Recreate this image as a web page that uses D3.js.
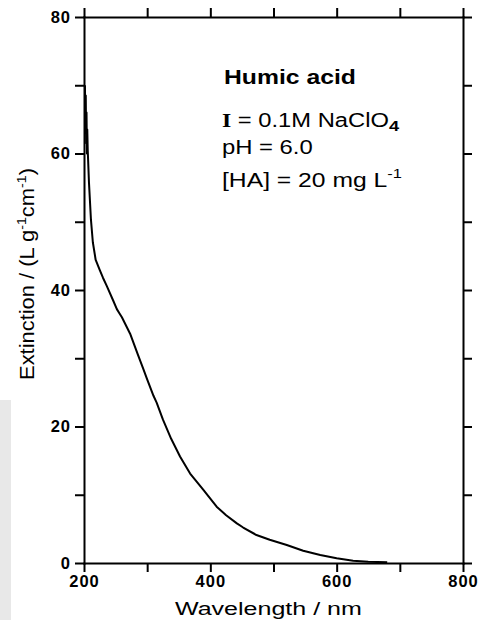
<!DOCTYPE html>
<html>
<head>
<meta charset="utf-8">
<script src="https://cdn.jsdelivr.net/npm/d3@7/dist/d3.min.js"></script>
<style>
  html, body { margin: 0; padding: 0; background: #fff; }
  svg { display: block; }
</style>
</head>
<body>
<svg id="chart" width="481" height="620"></svg>
<script>
// ---- data ----
const wavelengths = [201.5, 202.2, 202.8, 203.4, 204.0, 204.6, 205.2, 205.9, 207.9, 211, 214, 218.5, 225, 230, 236, 246, 252, 256, 260, 273, 285, 294, 300, 310, 315, 325, 338, 352, 368, 389, 410, 425, 442, 452, 473, 494, 521, 547, 574, 600, 626, 650, 680];
const extinction  = [70.0, 63.0, 68.5, 61.5, 66.0, 60.0, 63.5, 60.5, 55.7, 50.3, 47.0, 44.4, 42.9, 41.8, 40.6, 38.5, 37.2, 36.6, 36.0, 33.6, 30.6, 28.4, 26.9, 24.5, 23.5, 21.0, 18.2, 15.6, 13.1, 10.7, 8.25, 7.0, 5.8, 5.2, 4.1, 3.4, 2.64, 1.8, 1.17, 0.69, 0.34, 0.2, 0.1];
const xTicks  = [200, 300, 400, 500, 600, 700, 800];
const xLabels = [200, 400, 600, 800];
const yTicks  = [0, 10, 20, 30, 40, 50, 60, 70, 80];
const yLabels = [0, 20, 40, 60, 80];

const svg = d3.select("#chart");

// scan artefact strip at left edge
svg.append("rect").attr("x", 0).attr("y", 400).attr("width", 11).attr("height", 220).attr("fill", "#e8e8e8");

const x = d3.scaleLinear().domain([200, 800]).range([84, 463]);
const y = d3.scaleLinear().domain([0, 80]).range([563, 17]);

function styleAxis(g) {
  g.attr("font-size", null).attr("font-family", null);
  g.select(".domain").attr("stroke", "#000").attr("stroke-width", 2).attr("stroke-linecap", "square");
  g.selectAll(".tick line").attr("stroke", "#000").attr("stroke-width", 2);
  g.selectAll(".tick text")
    .attr("fill", "#000")
    .style("font-family", "'Liberation Sans', Arial, sans-serif")
    .style("font-weight", "bold")
    .style("font-size", "16.5px")
    .style("letter-spacing", "1px");
}

const fmtX = d => xLabels.includes(d) ? String(d) : "";
const fmtY = d => yLabels.includes(d) ? String(d) : "";

svg.append("g").attr("transform", "translate(0,563)")
  .call(d3.axisBottom(x).tickValues(xTicks).tickSize(9).tickSizeOuter(0).tickPadding(3).tickFormat(fmtX))
  .call(styleAxis);
svg.append("g").attr("transform", "translate(0,17)")
  .call(d3.axisTop(x).tickValues(xTicks).tickSize(9).tickSizeOuter(0).tickFormat(""))
  .call(styleAxis);
svg.append("g").attr("transform", "translate(84,0)")
  .call(d3.axisLeft(y).tickValues(yTicks).tickSize(9).tickSizeOuter(0).tickPadding(4).tickFormat(fmtY))
  .call(styleAxis);
svg.append("g").attr("transform", "translate(463,0)")
  .call(d3.axisRight(y).tickValues(yTicks).tickSize(9).tickSizeOuter(0).tickFormat(""))
  .call(styleAxis);

// curve
const pts = wavelengths.map((w, i) => [w, extinction[i]]);
svg.append("path")
  .datum(pts)
  .attr("fill", "none")
  .attr("stroke", "#000")
  .attr("stroke-width", 2)
  .attr("stroke-linejoin", "round")
  .attr("d", d3.line().x(d => x(d[0])).y(d => y(d[1])));

// ---- text helpers ----
const SANS = "'Liberation Sans', Arial, sans-serif";
function fitted(tx, ty, width, size, weight, build, rotate) {
  const g = svg.append("g");
  const t = g.append("text")
    .attr("x", 0).attr("y", 0)
    .style("font-family", SANS)
    .style("font-size", size + "px")
    .style("font-weight", weight)
    .attr("fill", "#000");
  build(t);
  const w = t.node().getBBox().width;
  const s = width / w;
  if (rotate) {
    t.attr("text-anchor", "middle");
    g.attr("transform", `translate(${tx},${ty}) rotate(-90) scale(${s},1)`);
  } else {
    g.attr("transform", `translate(${tx},${ty}) scale(${s},1)`);
  }
  return t;
}

// annotation block
fitted(224, 84, 132, 20.5, "bold", t => t.text("Humic acid"));
fitted(222, 127, 178, 19.5, "normal", t => {
  t.append("tspan").style("font-family", "'Liberation Serif', 'Times New Roman', serif").style("font-weight", "bold").text("I");
  t.append("tspan").text(" = 0.1M NaClO");
  t.append("tspan").attr("dy", 4).style("font-size", "15px").style("font-weight", "bold").text("4");
});
fitted(222, 154, 91, 19.5, "normal", t => t.text("pH = 6.0"));
fitted(222, 187, 180, 19.5, "normal", t => {
  t.append("tspan").text("[HA] = 20 mg L");
  t.append("tspan").attr("dy", -9).style("font-size", "13px").text("-1");
});

// axis titles
fitted(175, 615, 187, 18.5, "normal", t => t.text("Wavelength / nm"));
fitted(34, 274, 212, 20, "normal", t => {
  t.append("tspan").text("Extinction / (L g");
  t.append("tspan").attr("dy", -8).style("font-size", "13px").text("-1");
  t.append("tspan").attr("dy", 8).text("cm");
  t.append("tspan").attr("dy", -8).style("font-size", "13px").text("-1");
  t.append("tspan").attr("dy", 8).text(")");
}, true);
</script>
</body>
</html>
